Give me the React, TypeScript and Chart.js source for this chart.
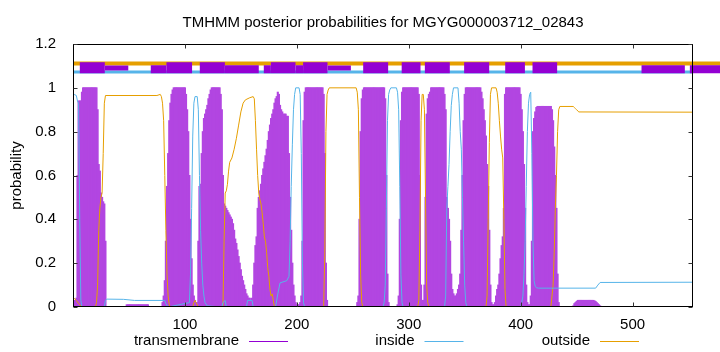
import React, { useEffect, useRef } from "react";
import { Chart, registerables } from "chart.js";

Chart.register(...registerables);

const TITLE = "TMHMM posterior probabilities for MGYG000003712_02843";
const Y_LABEL = "probability";
const SEQ_MAX = 554;
const X_TICKS = [100, 200, 300, 400, 500];
const Y_TICKS = [0, 0.2, 0.4, 0.6, 0.8, 1, 1.2];
const SERIES = ["transmembrane", "inside", "outside"];
const COLORS = ["#9400D3", "#56B4E9", "#E69F00"];

// transmembrane posterior probability, per residue, in runs (first residue of each run)
const tmRunStarts = [1, 48, 80, 254, 290, 447];
const tmRunValues: number[][] = [
  [0.03, 0.03, 0.04, 0.6, 0.94, 0.94, 0.94, 0.98, 1, 1, 1, 1, 1, 1, 1, 1, 1, 1, 1, 1, 1, 0.9, 0.65, 0.62, 0.52, 0.5, 0.48, 0.47, 0.3],
  [0.01, 0.01, 0.01, 0.01, 0.01, 0.01, 0.01, 0.01, 0.01, 0.01, 0.01, 0.01, 0.01, 0.01, 0.01, 0.01, 0.01, 0.01, 0.01, 0.01],
  [0.02, 0.05, 0.12, 0.3, 0.55, 0.7, 0.85, 0.93, 0.97, 0.99,
    1, 1, 1, 1, 1, 1, 1, 1, 1, 1, 1,
    0.97, 0.9, 0.8, 0.6, 0.4, 0.22, 0.1, 0.05, 0.03, 0.02, 0.02,
    0.3, 0.55, 0.56, 0.7, 0.8, 0.86, 0.88, 0.9, 0.92, 0.95, 0.97, 0.99,
    1, 1, 1, 1, 1, 1, 1, 1,
    0.97, 0.9, 0.6, 0.47, 0.46, 0.45, 0.44, 0.43, 0.42, 0.41, 0.4, 0.38, 0.35, 0.31, 0.29, 0.26, 0.23, 0.2, 0.17, 0.14, 0.12, 0.1, 0.08, 0.06, 0.05, 0.04, 0.04, 0.03, 0.04,
    0.1, 0.2, 0.28, 0.32, 0.45, 0.5, 0.53, 0.56, 0.6, 0.63, 0.66, 0.69, 0.72, 0.76, 0.8, 0.83, 0.86, 0.88, 0.9, 0.93, 0.95, 0.96, 0.98, 0.97, 0.92, 0.9, 0.89, 0.88, 0.88, 0.88, 0.87, 0.87, 0.7, 0.5, 0.35, 0.2, 0.1, 0.05, 0.02,
    0.01, 0.01, 0.01, 0.02, 0.05, 0.3, 0.85, 0.98,
    1, 1, 1, 1, 1, 1, 1, 1, 1, 1, 1, 1, 1, 1, 1, 1,
    0.97, 0.7, 0.2, 0.03],
  [0.02, 0.05, 0.4, 0.8, 0.95, 0.99, 1, 1, 1, 1, 1, 1, 1, 1, 1, 1, 1, 1, 1, 1, 1, 1, 1, 1, 1, 0.95, 0.6, 0.15, 0.02],
  [0.01, 0.05, 0.4, 0.85, 0.98, 1, 1, 1, 1, 1, 1, 1, 1, 1, 1, 1, 1, 1, 1, 0.97, 0.6, 0.1, 0.03, 0.03,
    0.1, 0.5, 0.88, 0.95, 0.97, 0.98, 1, 1, 1, 1, 1, 1, 1, 1, 1, 1, 1, 1, 0.97, 0.9,
    0.5, 0.45, 0.4, 0.3, 0.15, 0.08, 0.06, 0.05, 0.05, 0.06, 0.08, 0.1,
    0.15, 0.35, 0.6, 0.85, 0.97, 1, 1, 1, 1, 1, 1, 1, 1, 1, 1, 1, 1, 1, 1,
    0.98, 0.95, 0.9, 0.85, 0.78, 0.65, 0.55, 0.35, 0.1, 0.02, 0.01, 0.01,
    0.02, 0.05, 0.08, 0.1, 0.15, 0.22, 0.28, 0.32, 0.45, 0.97, 1, 1, 1, 1, 1, 1, 1, 1, 1, 1, 1, 1, 1,
    0.97, 0.9, 0.8, 0.65, 0.45, 0.1, 0.02, 0.01, 0.01,
    0.05, 0.3, 0.8, 0.86, 0.89, 0.91, 0.915, 0.915, 0.915, 0.915, 0.915, 0.915, 0.915, 0.915, 0.915, 0.915, 0.915, 0.915, 0.915,
    0.9, 0.85, 0.73, 0.6, 0.45, 0.15, 0.02],
  [0.005, 0.015, 0.02, 0.025, 0.03, 0.03, 0.03, 0.03, 0.03, 0.03, 0.03, 0.03, 0.03, 0.03, 0.03, 0.03, 0.03, 0.03, 0.03, 0.028, 0.025, 0.02, 0.015, 0.01, 0.005],
];

// inside probability: [residue, value]
const insidePoints: [number, number][] = [
  [1, 0.97], [3, 0.965], [4, 0.94], [5, 0.93], [6, 0.4], [7, 0.03], [8, 0], [28, 0], [29, 0.03], [30, 0.036], [45, 0.035], [55, 0.03], [82, 0.03], [83, 0.015], [85, 0],
  [104, 0.02], [105, 0.15], [106, 0.45], [107, 0.78], [108, 0.93], [109, 0.96], [111, 0.96], [112, 0.9], [113, 0.6], [114, 0.35], [115, 0.2], [116, 0.1], [117, 0.05], [118, 0.02], [120, 0.005],
  [133, 0], [134, 0.02], [136, 0.03], [137, 0], [155, 0], [156, 0.03], [160, 0.03], [161, 0],
  [181, 0], [183, 0.06], [185, 0.11], [191, 0.12], [193, 0.14], [194, 0.3], [195, 0.55], [196, 0.74], [197, 0.9], [198, 0.97], [199, 1], [202, 1], [203, 0.97], [204, 0.7], [205, 0.2], [206, 0.02], [207, 0],
  [277, 0], [278, 0.02], [279, 0.1], [280, 0.45], [281, 0.85], [282, 0.97], [283, 0.99], [284, 1], [289, 1], [290, 0.98], [291, 0.9], [292, 0.55], [293, 0.15], [294, 0.02], [295, 0],
  [332, 0], [333, 0.05], [334, 0.45], [335, 0.55], [336, 0.65], [337, 0.8], [338, 0.92], [339, 0.97], [340, 1], [344, 1], [345, 0.93], [346, 0.8], [347, 0.72], [348, 0.5], [349, 0.3], [350, 0.1], [351, 0.02], [352, 0],
  [400, 0], [401, 0.02], [402, 0.05], [403, 0.15], [404, 0.3], [405, 0.55], [406, 0.8], [407, 0.93], [408, 0.97], [409, 0.98], [410, 0.7], [411, 0.3], [412, 0.12], [413, 0.095], [414, 0.088], [416, 0.086],
  [467, 0.086], [469, 0.1], [471, 0.112], [554, 0.113],
];

// outside probability: [residue, value]
const outsidePoints: [number, number][] = [
  [1, 0.04], [3, 0.03], [5, 0.015], [8, 0], [20, 0], [21, 0.02], [22, 0.1], [23, 0.35], [24, 0.45], [25, 0.5], [26, 0.52], [27, 0.7], [28, 0.93], [29, 0.965], [75, 0.965], [78, 0.97], [79, 0.96], [80, 0.93], [81, 0.85], [82, 0.6], [83, 0.35], [84, 0.15], [85, 0.05], [86, 0.01], [87, 0],
  [107, 0], [108, 0.02], [109, 0.03], [110, 0.02], [112, 0],
  [134, 0], [135, 0.3], [136, 0.52], [137, 0.53], [138, 0.56], [139, 0.62], [140, 0.66], [142, 0.68], [144, 0.72], [146, 0.77], [148, 0.83], [150, 0.89], [152, 0.93], [154, 0.945], [158, 0.955], [161, 0.96], [162, 0.95], [163, 0.85], [164, 0.72], [165, 0.6], [166, 0.52], [167, 0.49], [168, 0.47], [169, 0.43], [170, 0.38], [171, 0.32], [172, 0.3], [173, 0.25], [174, 0.18], [175, 0.14], [176, 0.08], [177, 0.05], [178, 0.06], [179, 0.03], [180, 0],
  [224, 0], [225, 0.25], [226, 0.8], [227, 0.97], [228, 0.99], [229, 1], [253, 1], [254, 0.98], [255, 0.9], [256, 0.5], [257, 0.15], [258, 0.02], [259, 0],
  [308, 0], [309, 0.03], [310, 0.35], [311, 0.85], [312, 0.97], [313, 0.97], [314, 0.9], [315, 0.5], [316, 0.1], [317, 0.02], [318, 0],
  [369, 0], [370, 0.05], [371, 0.4], [372, 0.75], [373, 0.97], [374, 1], [378, 1], [379, 0.98], [380, 0.93], [381, 0.85], [382, 0.78], [383, 0.72], [384, 0.68], [385, 0.4], [386, 0.08], [387, 0],
  [427, 0], [429, 0.1], [430, 0.25], [431, 0.45], [432, 0.6], [433, 0.8], [434, 0.9], [435, 0.915], [447, 0.915], [448, 0.91], [449, 0.905], [450, 0.9], [452, 0.89], [554, 0.889],
];

// predicted topology strip along the top
const topOutsideLevel = 1.111;
const topInsideLevel = 1.072;
const topOutsideSpan: [number, number] = [0, 580];
const topInsideSpan: [number, number] = [0, 554];
const topBoxLevelFull = 1.092;
const topBoxLevelMid = 1.085;
const topBoxLevelThin = 1.09;
const topBoxesFull: [number, number][] = [[6.1, 28.4], [83.5, 106.4], [113.3, 135.7], [176.8, 198.8], [205.6, 227.4], [259.3, 281.6], [293.7, 310.5], [314.4, 336.7], [349.5, 371.9], [386.2, 403.8], [410.6, 432.6]];
const topBoxesMid: [number, number][] = [[69.5, 83.5], [135.7, 166], [170.5, 176.8], [198.8, 205.6], [508, 546.7], [551.2, 580]];
const topBoxesThin: [number, number][] = [[28.4, 49.4], [227.4, 248.3]];

const FONT = "'Liberation Sans', Arial, Helvetica, sans-serif";

function segs(boxes: [number, number][], level: number) {
  const out: { x: number; y: number | null }[] = [];
  boxes.forEach(([a, b]) => {
    out.push({ x: a, y: level }, { x: b, y: level }, { x: b, y: null });
  });
  return out;
}

export default function App() {
  const ref = useRef<HTMLCanvasElement | null>(null);
  useEffect(() => {
    document.body.style.margin = "0";
    const canvas = ref.current;
    if (!canvas) return;

    const tmData: { x: number; y: number }[] = [];
    tmRunStarts.forEach((s, r) => tmRunValues[r].forEach((v, i) => tmData.push({ x: s + i, y: v })));

    const framePlugin = {
      id: "gnuplotFrame",
      afterDraw(chart: any) {
        const { ctx, chartArea: a, scales } = chart;
        const xs = scales.x, ys = scales.y;
        ctx.save();
        const L = Math.round(a.left) + 0.5, R = Math.round(a.right) - 0.5;
        const T = Math.round(a.top) + 0.5, B = Math.round(a.bottom) - 0.5;
        ctx.strokeStyle = "#000";
        ctx.lineWidth = 1;
        ctx.strokeRect(L, T, R - L, B - T);
        ctx.strokeStyle = "#333";
        const tl = 4;
        ctx.beginPath();
        X_TICKS.forEach((v) => {
          const px = Math.round(xs.getPixelForValue(v)) + 0.5;
          ctx.moveTo(px, B); ctx.lineTo(px, B - tl);
          ctx.moveTo(px, T); ctx.lineTo(px, T + tl);
        });
        Y_TICKS.forEach((v) => {
          const py = Math.round(ys.getPixelForValue(v)) + 0.5;
          ctx.moveTo(L, py); ctx.lineTo(L + tl, py);
          ctx.moveTo(R, py); ctx.lineTo(R - tl, py);
        });
        ctx.stroke();

        ctx.fillStyle = "#000";
        ctx.font = `15px ${FONT}`;
        ctx.textAlign = "center";
        ctx.textBaseline = "alphabetic";
        ctx.fillText(TITLE, (a.left + a.right) / 2, 27);

        ctx.save();
        ctx.translate(17, (a.top + a.bottom) / 2);
        ctx.rotate(-Math.PI / 2);
        ctx.textBaseline = "middle";
        ctx.fillText(Y_LABEL, 0, 0);
        ctx.restore();

        // legend
        const ly = 341;
        ctx.textAlign = "right";
        ctx.textBaseline = "middle";
        SERIES.forEach((name, i) => {
          const right = 239 + i * 175.5;
          ctx.fillStyle = "#000";
          ctx.fillText(name, right, ly);
          ctx.strokeStyle = COLORS[i];
          ctx.lineWidth = 1;
          ctx.beginPath();
          ctx.moveTo(right + 10, ly + 0.5);
          ctx.lineTo(right + 49, ly + 0.5);
          ctx.stroke();
        });
        ctx.restore();
      },
    };

    const chart = new Chart(canvas, {
      type: "line",
      data: {
        datasets: [
          {
            type: "line", label: "topFull", data: segs(topBoxesFull, topBoxLevelFull) as any,
            borderColor: "#9400D3", borderWidth: 11, pointRadius: 0, spanGaps: false, clip: false as any, order: 0,
          },
          {
            type: "line", label: "topMid", data: segs(topBoxesMid, topBoxLevelMid) as any,
            borderColor: "#9400D3", borderWidth: 8, pointRadius: 0, spanGaps: false, clip: false as any, order: 0,
          },
          {
            type: "line", label: "topThin", data: segs(topBoxesThin, topBoxLevelThin) as any,
            borderColor: "#9400D3", borderWidth: 5, pointRadius: 0, spanGaps: false, clip: false as any, order: 0,
          },
          {
            type: "line", label: "topOutside",
            data: topOutsideSpan.map((x) => ({ x, y: topOutsideLevel })),
            borderColor: COLORS[2], borderWidth: 4, pointRadius: 0, clip: false as any, order: 2,
          },
          {
            type: "line", label: "topInside",
            data: topInsideSpan.map((x) => ({ x, y: topInsideLevel })),
            borderColor: COLORS[1], borderWidth: 3, pointRadius: 0, clip: false as any, order: 2,
          },
          {
            type: "line", label: SERIES[1], data: insidePoints.map(([x, y]) => ({ x, y })),
            borderColor: COLORS[1], borderWidth: 1, pointRadius: 0, order: 4,
          },
          {
            type: "line", label: SERIES[2], data: outsidePoints.map(([x, y]) => ({ x, y })),
            borderColor: COLORS[2], borderWidth: 1, pointRadius: 0, order: 4,
          },
          {
            type: "bar", label: SERIES[0], data: tmData as any,
            backgroundColor: "rgb(178,70,225)", borderWidth: 0,
            barPercentage: 1, categoryPercentage: 1, inflateAmount: 0.5, order: 8,
          } as any,
        ],
      },
      options: {
        responsive: false,
        animation: false,
        maintainAspectRatio: false,
        layout: { padding: { top: 44, right: 27, left: 0, bottom: 0 } },
        plugins: { legend: { display: false }, tooltip: { enabled: false }, title: { display: false } },
        scales: {
          x: {
            type: "linear", min: 0, max: SEQ_MAX, offset: false,
            grid: { display: false }, border: { display: false },
            afterFit: (s: any) => { s.height = 45; },
            afterBuildTicks: (s: any) => { s.ticks = X_TICKS.map((value) => ({ value })); },
            ticks: { color: "#000", font: { family: FONT, size: 15 }, padding: 1, maxRotation: 0, autoSkip: false, callback: (v: any) => String(v) },
          },
          y: {
            type: "linear", min: 0, max: 1.2,
            grid: { display: false }, border: { display: false },
            afterFit: (s: any) => { s.width = 73; },
            afterBuildTicks: (s: any) => { s.ticks = Y_TICKS.map((value) => ({ value })); },
            ticks: { color: "#000", font: { family: FONT, size: 15 }, padding: 9, callback: (v: any) => String(v) },
          },
        },
      },
      plugins: [framePlugin],
    });
    return () => chart.destroy();
  }, []);
  return <canvas ref={ref} width={720} height={352} style={{ display: "block" }} />;
}
